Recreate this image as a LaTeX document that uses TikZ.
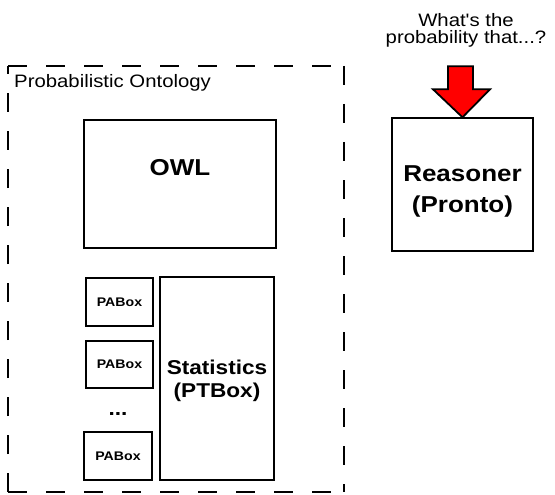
\documentclass[tikz,border=0pt]{standalone}
\usepackage{fontspec}
\setmainfont[FakeStretch=1.13]{Liberation Sans}
% same face without the TeX quote mapping, so ' stays straight
\newfontfamily\straightquotes[FakeStretch=1.13]{Liberation Sans}
\begin{document}
\begin{tikzpicture}[x=1pt,y=-1pt,
  box/.style={draw=black, line width=1.4pt, inner sep=0pt, align=center},
  frame/.style={draw=black, line width=1.8pt, dash pattern=on 19pt off 19pt},
  bigbold/.style={font=\fontsize{23}{31}\selectfont\bfseries, align=center, inner sep=0pt},
  midbold/.style={font=\fontsize{20}{23}\selectfont\bfseries, align=center, inner sep=0pt},
  smallbold/.style={font=\fontsize{12.5}{14}\selectfont\bfseries, inner sep=0pt},
  plain/.style={font=\fontsize{18}{17}\selectfont, align=center, inner sep=0pt},
  query/.style={draw=black, line width=1.8pt, fill=red, line join=miter}]
\useasboundingbox (0,0) rectangle (555,495);

% dashed container of the probabilistic ontology, one side at a time
\coordinate (ftl) at (8,66);
\coordinate (ftr) at (344,66);
\coordinate (fbl) at (8,492);
\coordinate (fbr) at (344,492);
\draw[frame] (ftl) -- (ftr);
\draw[frame] (ftr) -- (fbr);
\draw[frame] (fbl) -- (ftl);
\draw[frame] (fbl) -- (fbr);
\node[plain, anchor=base west] (ontlabel) at (14,88) {Probabilistic Ontology};

% classical OWL part
\node[box, minimum width=192pt, minimum height=128pt] (owl) at (180,184) {};
\node[bigbold] (owltext) at (180,168) {OWL};

% probabilistic ABoxes
\node[box, smallbold, minimum width=67pt, minimum height=48pt] (pa1) at (119.5,302) {PABox};
\node[box, smallbold, minimum width=67pt, minimum height=47pt] (pa2) at (119.5,364.5) {PABox};
\node[font=\fontsize{20}{20}\selectfont\bfseries, inner sep=0pt, anchor=base] (dots) at (118,415) {...};
\node[box, smallbold, minimum width=68pt, minimum height=48pt] (pa3) at (118,456) {PABox};

% statistical TBox
\node[box, minimum width=114pt, minimum height=203pt] (stats) at (217,378.5) {};
\node[midbold] (statstext) at (217,381) {Statistics\\(PTBox)};

% reasoner
\node[box, minimum width=141pt, minimum height=133pt] (reasoner) at (462.5,184.5) {};
\node[bigbold] (reasonertext) at (462.5,191) {Reasoner\\(Pronto)};

% incoming query
\node[plain, font=\fontsize{18}{17}\straightquotes] (question) at (466,30) {What's the\\probability that...?};
\coordinate (tip) at (reasoner.north);
\draw[query] (tip) -- ++(-29.5,-28) -- ++(15,0) -- ++(0,-23) -- ++(25,0)
  -- ++(0,23) -- ++(17,0) -- cycle;
\end{tikzpicture}
\end{document}
